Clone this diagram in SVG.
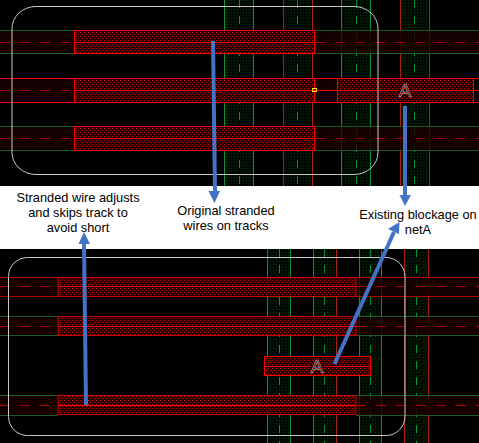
<svg xmlns="http://www.w3.org/2000/svg" width="479" height="443" viewBox="0 0 479 443">
<style>
.wire{fill:url(#wire);stroke:#f00;stroke-width:1}
.wireb{fill:url(#wire);stroke:#c00;stroke-width:1}
.bg{fill:url(#dim)}
.track{fill:url(#gtrack)}
.gl{stroke:#0a8f3c;stroke-width:1;fill:none}
.rl{stroke:#a82010;stroke-width:1;fill:none}
.gd{stroke:#0a8f3c;stroke-width:1;stroke-dasharray:8 8;fill:none}
.rd{stroke:#a00;stroke-width:1;stroke-dasharray:10 10;fill:none}
.rc{stroke:#f00;stroke-width:1;fill:none}
.hg{stroke:#1c5a2a;stroke-width:1;fill:none}
.hr{stroke:#a00;stroke-width:1;fill:none}
.bound{fill:none;stroke:#c8c8c8;stroke-width:1}
.lab{font-family:"Liberation Sans",Arial,sans-serif;font-size:12.8px;fill:#000;text-anchor:middle}
.pin{font-family:"Liberation Sans",Arial,sans-serif;font-size:19px;fill:none;stroke:#ddd;stroke-width:.5;text-anchor:middle}
.arrow{stroke:#4472c4;stroke-width:4;fill:none}
.head{fill:#4472c4}
</style>
<defs>
<pattern id="wire" width="4" height="4" patternUnits="userSpaceOnUse"><rect width="4" height="4" fill="#240000" fill-opacity=".92"/><rect x="0" y="0" width="1" height="1" fill="#d00000"/><rect x="2" y="2" width="1" height="1" fill="#c00000"/></pattern>
<pattern id="dim" width="2" height="2" patternUnits="userSpaceOnUse"><rect width="2" height="2" fill="#100000" fill-opacity=".75"/><rect width="1" height="1" fill="#2a0000" fill-opacity=".7"/></pattern>
<pattern id="gtrack" width="3" height="3" patternUnits="userSpaceOnUse"><rect width="3" height="3" fill="#000a00"/><rect width="1" height="1" fill="#062e10"/></pattern>
</defs>
<rect width="479" height="443" fill="#000"/>
<g id="top-panel">
<g id="top-tracks">
<rect class="track" x="224" y="0" width="29" height="186"/><rect class="track" x="283" y="0" width="29" height="186"/><rect class="track" x="341" y="0" width="29" height="186"/><rect class="track" x="400" y="0" width="29" height="186"/>
<path class="gl" d="M224.500 0V186M253.500 0V186M341.500 0V186M370.500 0V186"/>
<path class="rl" d="M283.500 0V186M312.500 0V186M400.500 0V186M429.500 0V186"/>
<path class="gd" d="M239.500 0V186M297.500 0V186M356.500 0V186M414.500 0V186"/>
</g>
<g id="top-dim">
<rect class="bg" x="0" y="30" width="74" height="24"/><rect class="bg" x="315" y="30" width="164" height="24"/>
<rect class="bg" x="0" y="78" width="74" height="24"/><rect class="bg" x="315" y="78" width="22" height="24"/>
<rect class="bg" x="0" y="126" width="74" height="24"/><rect class="bg" x="315" y="126" width="164" height="24"/>
<path class="hg" d="M0 30.500H74M0 53.500H74M315 30.500H479M315 53.500H479M0 126.500H74M0 150.500H74M315 126.500H479M315 150.500H479"/>
<path class="rc" d="M0 78.500H479M0 102.500H479"/>
<path class="rd" d="M0 42.500H74M315 42.500H479M0 90.500H74M0 138.500H74M315 138.500H479"/>
</g>
<g id="top-wire-1"><rect class="wire" x="74.500" y="30.500" width="240" height="23"/><path class="rc" d="M74 42.500H314"/></g>
<g id="top-wire-2"><rect class="wire" x="74.500" y="78.500" width="240" height="24"/><path class="rc" d="M74 90.500H314"/></g>
<g id="top-wire-3"><rect class="wire" x="74.500" y="126.500" width="240" height="24"/><path class="rc" d="M74 138.500H314"/></g>
<g id="top-blockage"><rect class="wire" x="337.500" y="78.500" width="136" height="24"/><path class="rc" d="M315 90.500H398M412 90.500H479"/></g>
<rect id="top-pin" x="312.500" y="88.500" width="4" height="3" fill="none" stroke="#ffe000" stroke-width="1"/>
<text class="pin" x="405" y="97">A</text>
<rect id="top-boundary" class="bound" x="12" y="6.500" width="366" height="168" rx="24" ry="22"/>
</g>
<g id="bottom-panel">
<g id="bottom-tracks">
<rect class="track" x="267" y="249" width="23" height="194"/><rect class="track" x="313" y="249" width="24" height="194"/><rect class="track" x="359" y="249" width="23" height="194"/><rect class="track" x="404" y="249" width="24" height="194"/>
<path class="gl" d="M267.500 249V443M290.500 249V443M313.500 249V443M359.500 249V443M381.500 249V443"/>
<path class="rl" d="M336.500 249V443M404.500 249V443M428.500 249V443"/>
<path class="gd" d="M279.500 249V443M324.500 249V443M370.500 249V443M416.500 249V443"/>
</g>
<g id="bottom-dim">
<rect class="bg" x="0" y="277" width="58" height="20"/><rect class="bg" x="356" y="277" width="123" height="20"/>
<rect class="bg" x="0" y="316" width="58" height="20"/><rect class="bg" x="356" y="316" width="123" height="20"/>
<rect class="bg" x="0" y="395" width="58" height="20"/><rect class="bg" x="356" y="395" width="123" height="20"/>
<path class="hr" d="M0 277.500H58M0 296.500H58M356 277.500H479M356 296.500H479"/>
<path class="hg" d="M0 316.500H58M0 335.500H58M356 316.500H479M356 335.500H479M0 395.500H58M0 415.500H58M356 395.500H479M356 415.500H479"/>
<path class="rd" d="M0 286.500H58M356 286.500H479M0 326.500H58M356 326.500H479M0 405.500H58M356 405.500H479"/>
</g>
<g id="bottom-wire-1"><rect class="wireb" x="58" y="277.500" width="298" height="19"/><path class="rc" d="M58 286.500H356"/></g>
<g id="bottom-wire-2"><rect class="wireb" x="58" y="316.500" width="298" height="19"/><path class="rc" d="M58 326.500H356"/></g>
<g id="bottom-wire-3"><rect class="wireb" x="58" y="395.500" width="298" height="19"/><path class="rc" d="M58 405.500H356"/></g>
<g id="bottom-blockage"><rect class="wire" x="264.500" y="356.500" width="106" height="19"/><path class="rc" d="M264 366.500H310M325 366.500H371"/></g>
<text class="pin" x="317" y="373">A</text>
<rect id="bottom-boundary" class="bound" x="8.500" y="257.500" width="396.500" height="178" rx="19" ry="19"/>
</g>
<rect id="caption-band" x="0" y="186" width="479" height="63" fill="#fff"/>
<g id="connectors">
<path class="arrow" d="M213 41L215 192"/><path class="head" d="M208.500 191H220L214.500 203Z"/>
<path class="arrow" d="M405 106L405 196"/><path class="head" d="M399.500 195H411L405 206Z"/>
<path class="arrow" d="M86 405L84 243"/><path class="head" d="M78.500 244H90L84 232Z"/>
<path class="arrow" d="M334.500 364L394 232"/><path class="head" d="M388 229L399 234L399.500 222Z"/>
</g>
<g id="labels">
<text class="lab" x="78" y="202">Stranded wire adjusts</text>
<text class="lab" x="78" y="217">and skips track to</text>
<text class="lab" x="78" y="232">avoid short</text>
<text class="lab" x="226" y="215">Original stranded</text>
<text class="lab" x="226" y="230">wires on tracks</text>
<text class="lab" x="418" y="219">Existing blockage on</text>
<text class="lab" x="418" y="234">netA</text>
</g>
</svg>
